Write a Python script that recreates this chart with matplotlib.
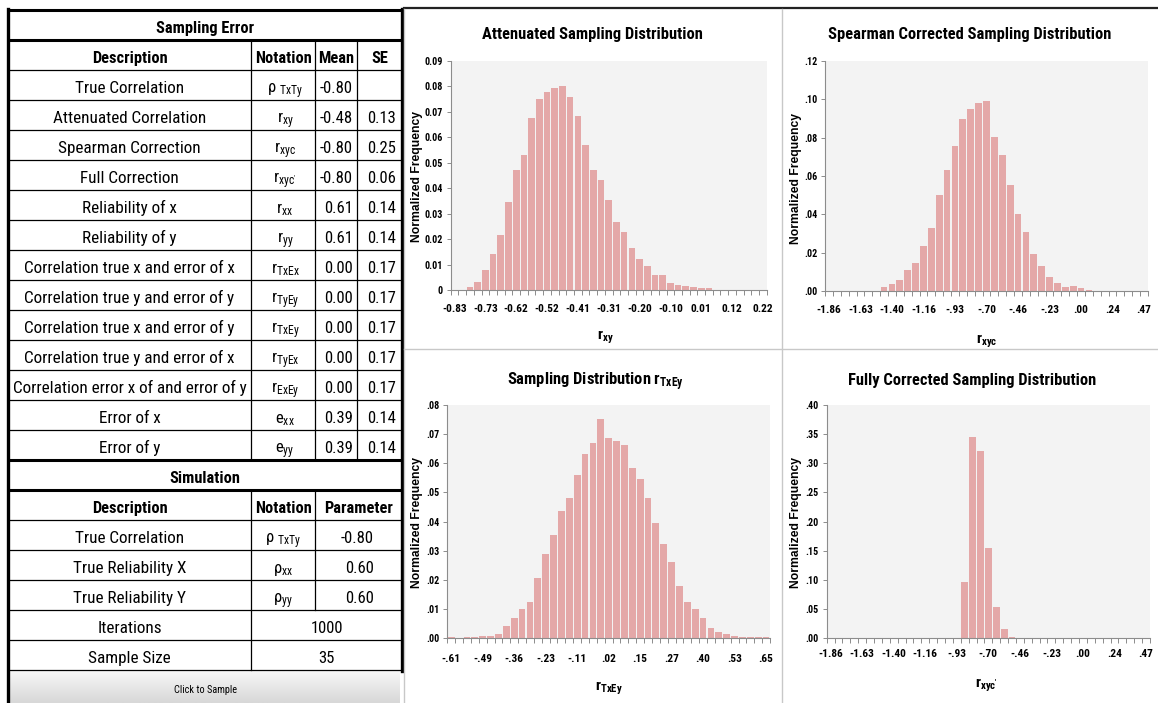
import numpy as np
import matplotlib.pyplot as plt
from matplotlib import font_manager
from matplotlib.colors import LinearSegmentedColormap

W, H = 1158, 703

# ---------------- table values ----------------
se_desc = ["True Correlation", "Attenuated Correlation", "Spearman Correction",
           "Full Correction", "Reliability of x", "Reliability of y",
           "Correlation true x and error of x", "Correlation true y and error of y",
           "Correlation true x and error of y", "Correlation true y and error of x",
           "Correlation error x of and error of y", "Error of x", "Error of y"]
se_note = [r"ρ $\mathregular{_{TxTy}}$", r"r$\mathregular{_{xy}}$", r"r$\mathregular{_{xyc}}$",
           r"r$\mathregular{_{xyc'}}$", r"r$\mathregular{_{xx}}$", r"r$\mathregular{_{yy}}$",
           r"r$\mathregular{_{TxEx}}$", r"r$\mathregular{_{TyEy}}$", r"r$\mathregular{_{TxEy}}$",
           r"r$\mathregular{_{TyEx}}$", r"r$\mathregular{_{ExEy}}$", r"e$\mathregular{_{xx}}$",
           r"e$\mathregular{_{yy}}$"]
se_mean = [-0.80, -0.48, -0.80, -0.80, 0.61, 0.61, 0.00, 0.00, 0.00, 0.00, 0.00, 0.39, 0.39]
se_se = [None, 0.13, 0.25, 0.06, 0.14, 0.14, 0.17, 0.17, 0.17, 0.17, 0.17, 0.14, 0.14]

sim_desc = ["True Correlation", "True Reliability X", "True Reliability Y", "Iterations", "Sample Size"]
sim_note = [r"ρ $\mathregular{_{TxTy}}$", r"ρ$\mathregular{_{xx}}$", r"ρ$\mathregular{_{yy}}$", None, None]
sim_param = ["-0.80", "0.60", "0.60", "1000", "35"]

# ---------------- histogram values (41 bins each) ----------------
att_freq = [0, 0, 0.001, 0.003, 0.008, 0.014, 0.0215, 0.0345, 0.047, 0.053, 0.0677,
            0.075, 0.078, 0.0795, 0.080, 0.0757, 0.0684, 0.057, 0.047, 0.0432, 0.0352,
            0.0267, 0.0227, 0.0165, 0.0123, 0.0094, 0.006, 0.0057, 0.0028, 0.0021, 0.0017,
            0.0013, 0.0009, 0.0006, 0, 0, 0, 0, 0, 0, 0]
spear_freq = [0, 0, 0, 0, 0, 0, 0.0003, 0.0024, 0.0038, 0.0059, 0.0113,
              0.0147, 0.0236, 0.0331, 0.0503, 0.063, 0.0756, 0.0898, 0.0947, 0.0982, 0.099,
              0.0801, 0.071, 0.0552, 0.0402, 0.0309, 0.0196, 0.0132, 0.0075, 0.0043, 0.0021,
              0.0026, 0.0016, 0.0007, 0, 0, 0, 0, 0, 0, 0]
txey_freq = [0.0003, 0, 0.0003, 0.0003, 0.0009, 0.0009, 0.0015, 0.0041, 0.007, 0.0102, 0.0125,
             0.0208, 0.0288, 0.0353, 0.0435, 0.0481, 0.0561, 0.0631, 0.0671, 0.0751, 0.0686,
             0.0677, 0.0664, 0.0584, 0.0545, 0.0481, 0.0394, 0.0323, 0.0262, 0.0179, 0.0124,
             0.0099, 0.0070, 0.0034, 0.0022, 0.0015, 0.0007, 0.0003, 0.0003, 0.0003, 0.0003]
full_freq = [0, 0, 0, 0, 0, 0, 0, 0, 0, 0, 0,
             0, 0, 0, 0, 0, 0.001, 0.097, 0.345, 0.321, 0.155,
             0.054, 0.016, 0.003, 0.001, 0.001, 0.001, 0.001, 0, 0, 0,
             0, 0, 0, 0, 0, 0, 0, 0, 0, 0]

att_xlabels = ["-0.83", "-0.73", "-0.62", "-0.52", "-0.41", "-0.31", "-0.20", "-0.10", "0.01", "0.12", "0.22"]
corr_xlabels = ["-1.86", "-1.63", "-1.40", "-1.16", "-.93", "-.70", "-.46", "-.23", ".00", ".24", ".47"]
txey_xlabels = ["-.61", "-.49", "-.36", "-.23", "-.11", ".02", ".15", ".27", ".40", ".53", ".65"]

att_yticks = [0, 0.01, 0.02, 0.03, 0.04, 0.05, 0.06, 0.07, 0.08, 0.09]
att_ylabels = ["0", "0.01", "0.02", "0.03", "0.04", "0.05", "0.06", "0.07", "0.08", "0.09"]
spear_yticks = [0, 0.02, 0.04, 0.06, 0.08, 0.10, 0.12]
spear_ylabels = [".00", ".02", ".04", ".06", ".08", ".10", ".12"]
txey_yticks = [0, 0.01, 0.02, 0.03, 0.04, 0.05, 0.06, 0.07, 0.08]
txey_ylabels = [".00", ".01", ".02", ".03", ".04", ".05", ".06", ".07", ".08"]
full_yticks = [0, 0.05, 0.10, 0.15, 0.20, 0.25, 0.30, 0.35, 0.40]
full_ylabels = [".00", ".05", ".10", ".15", ".20", ".25", ".30", ".35", ".40"]

# ---------------- fonts ----------------
avail = {f.name for f in font_manager.fontManager.ttflist}
NARROW = next((n for n in ["Liberation Sans Narrow", "Roboto Condensed", "Open Sans Condensed", "Lato"]
               if n in avail), "DejaVu Sans")
WIDE = "Liberation Sans"
plt.rcParams["font.family"] = [NARROW, "DejaVu Sans"]

BAR = "#e4a8a8"
AXC = "#8c8c8c"

fig = plt.figure(figsize=(W / 100, H / 100), dpi=100)
renderer = fig.canvas.get_renderer()


def fit_size(text, target_px, **kw):
    # font size (pt) that makes `text` about target_px wide
    t = fig.text(0, 0, text, fontsize=10, **kw)
    w = t.get_window_extent(renderer=renderer).width
    t.remove()
    return 10 * target_px / w


FS_DESC = fit_size("Correlation error x of and error of y", 234)
FS_HEAD = fit_size("Sampling Error", 98, fontweight="bold")
FS_NUM = fit_size("-0.48", 33)
FS_TITLE = fit_size("Attenuated Sampling Distribution", 220, fontweight="bold")
FS_XT = fit_size("-0.83", 25, fontweight="bold")
FS_YT = fit_size("0.09", 18, fontweight="bold")
FS_YLAB = fit_size("Normalized Frequency", 130, fontweight="bold", family=WIDE)
FS_BTN = fit_size("Click to Sample", 63)

bg = fig.add_axes([0, 0, 1, 1])
bg.axis("off")


def px_axes(x0, y0, x1, y1):
    return fig.add_axes([x0 / W, 1 - y1 / H, (x1 - x0) / W, (y1 - y0) / H])


# ---------------- table ----------------
XL, XD, XN, XM, XR = 8, 251, 315, 357, 402
TOP, RH = 10, 30
ybound = TOP + RH * np.arange(23)

for yb in ybound[1:]:
    bg.plot([XL, XR], [yb, yb], color="black", lw=0.9, solid_capstyle="butt")
for yb in [10, 40, 460, 490]:
    bg.plot([XL, XR], [yb, yb], color="black", lw=2.2, solid_capstyle="butt")
bg.plot([XL, XL], [9, 703], color="black", lw=2.4)
bg.plot([XR, XR], [9, 671], color="black", lw=2.4)
for xv in [XD, XN, XM]:
    bg.plot([xv, xv], [40, 460], color="black", lw=0.9)
bg.plot([XD, XD], [490, 670], color="black", lw=0.9)
bg.plot([XN, XN], [490, 610], color="black", lw=0.9)


def row_base(i):
    return TOP + RH * i + 23


bg.text((XL + XR) / 2, row_base(0), "Sampling Error", ha="center", va="baseline",
        fontsize=FS_HEAD, fontweight="bold")
for txt, xc in zip(["Description", "Notation", "Mean", "SE"],
                   [(XL + XD) / 2, (XD + XN) / 2, (XN + XM) / 2, (XM + XR) / 2]):
    bg.text(xc, row_base(1), txt, ha="center", va="baseline", fontsize=FS_HEAD, fontweight="bold")

for k in range(len(se_desc)):
    yb = row_base(2 + k)
    bg.text((XL + XD) / 2, yb, se_desc[k], ha="center", va="baseline", fontsize=FS_DESC)
    bg.text((XD + XN) / 2 + 2, yb, se_note[k], ha="center", va="baseline", fontsize=FS_NUM)
    bg.text(XM - 4, yb, f"{se_mean[k]:.2f}", ha="right", va="baseline", fontsize=FS_NUM)
    if se_se[k] is not None:
        bg.text(XR - 6, yb, f"{se_se[k]:.2f}", ha="right", va="baseline", fontsize=FS_NUM)

bg.text((XL + XR) / 2, row_base(15), "Simulation", ha="center", va="baseline",
        fontsize=FS_HEAD, fontweight="bold")
for txt, xc in zip(["Description", "Notation", "Parameter"],
                   [(XL + XD) / 2, (XD + XN) / 2, (XN + XR) / 2]):
    bg.text(xc, row_base(16), txt, ha="center", va="baseline", fontsize=FS_HEAD, fontweight="bold")

for k in range(len(sim_desc)):
    yb = row_base(17 + k)
    bg.text((XL + XD) / 2, yb, sim_desc[k], ha="center", va="baseline", fontsize=FS_DESC)
    if sim_note[k] is not None:
        bg.text((XD + XN) / 2, yb, sim_note[k], ha="center", va="baseline", fontsize=FS_NUM)
        bg.text(XR - 28, yb, sim_param[k], ha="right", va="baseline", fontsize=FS_NUM)
    else:
        bg.text((XD + XR) / 2, yb, sim_param[k], ha="center", va="baseline", fontsize=FS_NUM)

# button
grad = LinearSegmentedColormap.from_list("btn", ["#f6f6f6", "#d8d8d8"])
bg.imshow(np.linspace(0, 1, 30).reshape(-1, 1), cmap=grad, extent=(10, 400, 703, 671),
          aspect="auto", origin="upper", zorder=0)
bg.text(205, 690, "Click to Sample", ha="center", va="center", fontsize=FS_BTN)

# ---------------- chart panel frames ----------------
bg.plot([404, W], [7.5, 7.5], color="#222222", lw=1.6)
bg.plot([404, 404], [9, 703], color="#c8c8c8", lw=1)
bg.plot([782, 782], [9, 703], color="#c8c8c8", lw=1)
bg.plot([404, W], [349, 349], color="#c8c8c8", lw=1)

bg.set_xlim(0, W)
bg.set_ylim(H, 0)

# ---------------- histograms ----------------
cats = np.arange(41)


def draw_hist(ax, freq, yticks, ylabels, xlabels, xpad):
    ax.set_facecolor("#f3f3f3")
    ax.bar(cats, freq, width=0.86, color=BAR, edgecolor="none", zorder=2)
    ax.set_xlim(-0.5, 40.5)
    ax.set_ylim(0, yticks[-1])
    ax.set_xticks(cats[::4])
    ax.set_xticklabels(xlabels, fontweight="bold")
    ax.set_xticks(np.arange(-0.5, 41, 1), minor=True)
    ax.set_yticks(yticks)
    ax.set_yticklabels(ylabels, fontweight="bold")
    for s in ["top", "right"]:
        ax.spines[s].set_visible(False)
    for s in ["left", "bottom"]:
        ax.spines[s].set_color(AXC)
        ax.spines[s].set_linewidth(0.8)
    ax.tick_params(axis="x", which="major", length=0, pad=xpad, labelsize=FS_XT)
    ax.tick_params(axis="x", which="minor", length=3.5, color=AXC, width=0.7)
    ax.tick_params(axis="y", which="major", length=3, color=AXC, width=0.7, pad=2.5,
                   labelsize=FS_YT)


ax1 = px_axes(450.7, 61, 766.7, 290)
draw_hist(ax1, att_freq, att_yticks, att_ylabels, att_xlabels, 10)
ax2 = px_axes(825, 60.7, 1148, 291.3)
draw_hist(ax2, spear_freq, spear_yticks, spear_ylabels, corr_xlabels, 10)
ax3 = px_axes(447.3, 405, 770, 638.3)
draw_hist(ax3, txey_freq, txey_yticks, txey_ylabels, txey_xlabels, 11)
ax4 = px_axes(826.7, 405, 1150, 638.3)
draw_hist(ax4, full_freq, full_yticks, full_ylabels, corr_xlabels, 8)

# titles, axis labels
titles = ["Attenuated Sampling Distribution", "Spearman Corrected Sampling Distribution",
          r"Sampling Distribution r$\mathregular{_{TxEy}}$", "Fully Corrected Sampling Distribution"]
title_pos = [(592, 35), (970, 35), (595, 382), (972, 381)]
for t, (tx, ty) in zip(titles, title_pos):
    bg.text(tx, ty, t, ha="center", va="center", fontsize=FS_TITLE, fontweight="bold")

xnames = [r"r$\mathregular{_{xy}}$", r"r$\mathregular{_{xyc}}$",
          r"r$\mathregular{_{TxEy}}$", r"r$\mathregular{_{xyc'}}$"]
xname_pos = [(605, 337), (987, 341), (609, 688), (986, 685)]
for t, (tx, ty) in zip(xnames, xname_pos):
    bg.text(tx, ty, t, ha="center", va="center", fontsize=FS_XT * 1.35, fontweight="bold")

for tx, ty in [(417, 177), (796, 179), (417, 522), (796, 522)]:
    bg.text(tx, ty, "Normalized Frequency", ha="center", va="center", rotation=90,
            fontsize=FS_YLAB, fontweight="bold", family=WIDE)

fig.savefig("out.png", dpi=100)
